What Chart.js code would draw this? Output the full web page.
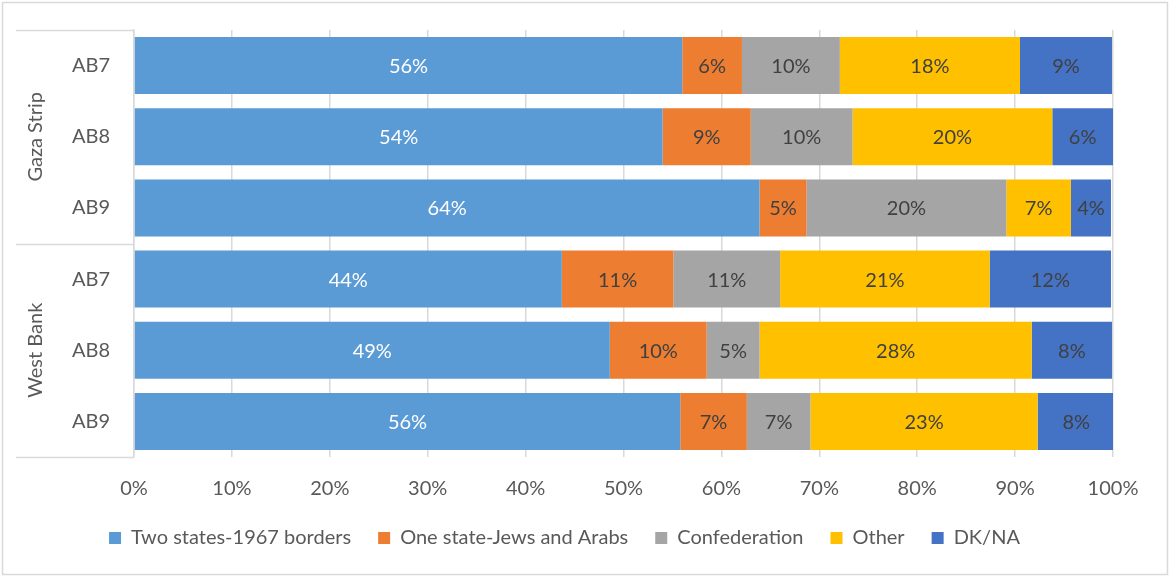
<!DOCTYPE html>
<html>
<head>
<meta charset="utf-8">
<script src="https://cdn.jsdelivr.net/npm/chart.js@4/dist/chart.umd.min.js"></script>
<style>
  html, body { margin: 0; padding: 0; background: #ffffff; }
  #wrap { width: 1170px; height: 577px; position: relative; }
</style>
</head>
<body>
<div id="wrap"><canvas id="chart" width="1170" height="577"></canvas></div>
<script>
// Survey rows: two regions, three waves each
const regions = ["Gaza Strip", "West Bank"];
const waves = ["AB7", "AB8", "AB9"];
const categories = ["AB7", "AB8", "AB9", "AB7", "AB8", "AB9"];

// Share of respondents (%) per preferred solution
const twoStates    = [56.0, 54.0, 63.9, 43.7, 48.6, 55.8];
const oneState     = [ 6.1,  9.0,  4.8, 11.4,  9.9,  6.8];
const confederation= [10.0, 10.4, 20.4, 10.9,  5.4,  6.5];
const other        = [18.4, 20.4,  6.6, 21.4, 27.8, 23.2];
const dkna         = [ 9.4,  6.2,  4.1, 12.4,  8.2,  7.9];

const xTicks = [0, 10, 20, 30, 40, 50, 60, 70, 80, 90, 100];

const FONT = "Lato, 'Open Sans', sans-serif";
const TEXT = "#595959";
const LINE = "#d9d9d9";

// Outer frame of the chart
const framePlugin = {
  id: "frame",
  beforeDraw(chart) {
    const ctx = chart.ctx;
    ctx.save();
    ctx.fillStyle = "#ffffff";
    ctx.fillRect(0, 0, chart.width, chart.height);
    ctx.strokeStyle = LINE;
    ctx.lineWidth = 1.5;
    ctx.strokeRect(2.5, 2.5, chart.width - 5, chart.height - 5);
    ctx.restore();
  }
};

// Region labels and separators on the category axis
const groupPlugin = {
  id: "groups",
  afterDraw(chart) {
    const ctx = chart.ctx;
    const y = chart.scales.y;
    const area = chart.chartArea;
    const left = 16;
    const step = (y.getPixelForValue(1) - y.getPixelForValue(0));
    const bounds = [area.top];
    regions.forEach((r, g) => {
      const last = g * waves.length + waves.length - 1;
      bounds.push(y.getPixelForValue(last) + step / 2);
    });
    ctx.save();
    ctx.strokeStyle = LINE;
    ctx.lineWidth = 1.5;
    bounds.forEach(b => {
      const yy = Math.round(b) + 0.5;
      ctx.beginPath();
      ctx.moveTo(left, yy);
      ctx.lineTo(area.left, yy);
      ctx.stroke();
    });
    ctx.fillStyle = TEXT;
    ctx.font = "20px " + FONT;
    ctx.textAlign = "center";
    ctx.textBaseline = "middle";
    regions.forEach((r, g) => {
      const mid = (bounds[g] + bounds[g + 1]) / 2;
      ctx.save();
      ctx.translate(36, mid);
      ctx.rotate(-Math.PI / 2);
      ctx.fillText(r, 0, 0);
      ctx.restore();
    });
    ctx.restore();
  }
};

// Percentage labels centred in each segment
const valueLabels = {
  id: "valueLabels",
  afterDatasetsDraw(chart) {
    const ctx = chart.ctx;
    ctx.save();
    ctx.font = "20px " + FONT;
    ctx.textAlign = "center";
    ctx.textBaseline = "middle";
    chart.data.datasets.forEach((ds, i) => {
      const meta = chart.getDatasetMeta(i);
      meta.data.forEach((bar, j) => {
        const v = ds.data[j];
        const cx = (bar.x + bar.base) / 2;
        ctx.fillStyle = ds.labelColor;
        ctx.fillText(Math.round(v) + "%", cx, bar.y + 1);
      });
    });
    ctx.restore();
  }
};

new Chart(document.getElementById("chart"), {
  type: "bar",
  data: {
    labels: categories,
    datasets: [
      { label: "Two states-1967 borders", data: twoStates, backgroundColor: "#5B9BD5", labelColor: "#ffffff" },
      { label: "One state-Jews and Arabs", data: oneState, backgroundColor: "#ED7D31", labelColor: "#404040" },
      { label: "Confederation", data: confederation, backgroundColor: "#A5A5A5", labelColor: "#404040" },
      { label: "Other", data: other, backgroundColor: "#FFC000", labelColor: "#404040" },
      { label: "DK/NA", data: dkna, backgroundColor: "#4472C4", labelColor: "#404040" }
    ]
  },
  options: {
    indexAxis: "y",
    responsive: false,
    animation: false,
    devicePixelRatio: 1,
    datasets: { bar: { categoryPercentage: 1.0, barPercentage: 0.8, borderWidth: 0 } },
    layout: { padding: { left: 16, top: 30, right: 57, bottom: 19 } },
    scales: {
      x: {
        stacked: true,
        min: 0,
        max: 100,
        afterBuildTicks(scale) { scale.ticks = xTicks.map(v => ({ value: v })); },
        afterFit(scale) { scale.height = 44; },
        ticks: {
          color: TEXT,
          font: { family: FONT, size: 20 },
          padding: 20,
          autoSkip: false,
          callback: v => v + "%"
        },
        grid: { color: LINE, lineWidth: 1.5, drawTicks: false },
        border: { display: false }
      },
      y: {
        stacked: true,
        afterFit(scale) {
          scale.width = 118;
          scale.paddingTop = 0;
          scale.paddingBottom = 0;
        },
        ticks: {
          color: TEXT,
          font: { family: FONT, size: 20 },
          padding: 24
        },
        grid: { display: false, drawTicks: false },
        border: { display: true, color: LINE, width: 1.5 }
      }
    },
    plugins: {
      legend: {
        position: "bottom",
        labels: {
          color: TEXT,
          font: { family: FONT, size: 20 },
          boxWidth: 12,
          boxHeight: 12,
          padding: 27
        }
      },
      tooltip: { enabled: false }
    }
  },
  plugins: [framePlugin, groupPlugin, valueLabels]
});
</script>
</body>
</html>
